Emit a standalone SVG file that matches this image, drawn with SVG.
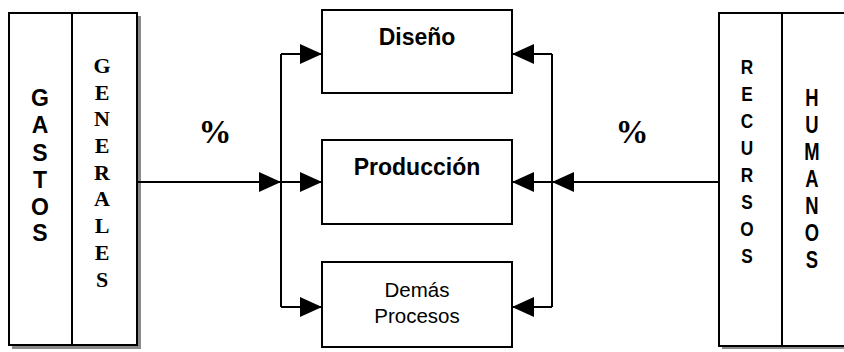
<svg xmlns="http://www.w3.org/2000/svg" width="844" height="352" viewBox="0 0 844 352">
<style>
.box{fill:#fff;stroke:#000;stroke-width:2}
.ln{fill:none;stroke:#000;stroke-width:2}
.sh{fill:#8a8a8a}
.vs{font-family:"Liberation Sans",Arial,sans-serif;font-weight:bold;text-anchor:middle;fill:#000}
.vt{font-family:"Liberation Serif","Times New Roman",serif;font-weight:bold;text-anchor:middle;fill:#000}
.lb{font-family:"Liberation Sans",Arial,sans-serif;text-anchor:middle;fill:#000}
</style>
<defs>
<marker id="ah" markerUnits="userSpaceOnUse" markerWidth="24" markerHeight="22" refX="22" refY="10" orient="auto">
<path d="M0,0 L22,10 L0,20 Z" fill="#000"/>
</marker>
</defs>
<rect width="844" height="352" fill="#fff"/>

<g id="gastos-generales">
<rect class="sh" x="137" y="16" width="4" height="333"/>
<rect class="sh" x="12" y="345" width="129" height="4"/>
<rect class="box" x="9" y="13" width="128" height="332"/>
<line class="ln" x1="72" y1="13" x2="72" y2="345"/>
<g class="vs" font-size="23">
<text x="40" y="106">G</text><text x="40" y="133">A</text><text x="40" y="161">S</text><text x="40" y="188">T</text><text x="40" y="215">O</text><text x="40" y="241">S</text>
</g>
<g class="vt" font-size="22">
<text x="102" y="73">G</text><text x="102" y="100">E</text><text x="102" y="126">N</text><text x="102" y="153">E</text><text x="102" y="180">R</text><text x="102" y="206">A</text><text x="102" y="233">L</text><text x="102" y="260">E</text><text x="102" y="287">S</text>
</g>
</g>

<g id="recursos-humanos">
<rect class="sh" x="722" y="346" width="122" height="3"/>
<rect class="box" x="719" y="13" width="130" height="333"/>
<line class="ln" x1="782" y1="13" x2="782" y2="346"/>
<g class="vs" font-size="21" transform="translate(747,0) scale(0.82,1)">
<text x="0" y="74">R</text><text x="0" y="101">E</text><text x="0" y="128">C</text><text x="0" y="155">U</text><text x="0" y="182">R</text><text x="0" y="209">S</text><text x="0" y="236">O</text><text x="0" y="263">S</text>
</g>
<g class="vs" font-size="23" transform="translate(812,0) scale(0.8,1)">
<text x="0" y="106">H</text><text x="0" y="133">U</text><text x="0" y="160">M</text><text x="0" y="187">A</text><text x="0" y="214">N</text><text x="0" y="241">O</text><text x="0" y="268">S</text>
</g>
</g>

<g id="diseno">
<rect class="box" x="322" y="10" width="190" height="83"/>
<text class="lb" x="417" y="45" font-size="23" font-weight="bold">Diseño</text>
</g>
<g id="produccion">
<rect class="box" x="322" y="140" width="190" height="84"/>
<text class="lb" x="417" y="175" font-size="23" font-weight="bold">Producción</text>
</g>
<g id="demas-procesos">
<rect class="box" x="322" y="262" width="190" height="85"/>
<text class="lb" x="417" y="297" font-size="20.5">Demás</text>
<text class="lb" x="417" y="323" font-size="20.5">Procesos</text>
</g>

<g id="connectors">
<path class="ln" d="M281,54 V307"/>
<path class="ln" d="M137,182 H281" marker-end="url(#ah)"/>
<path class="ln" d="M281,54 H322" marker-end="url(#ah)"/>
<path class="ln" d="M281,182 H322" marker-end="url(#ah)"/>
<path class="ln" d="M281,307 H322" marker-end="url(#ah)"/>
<path class="ln" d="M552,54 V307"/>
<path class="ln" d="M719,182 H552" marker-end="url(#ah)"/>
<path class="ln" d="M552,54 H512" marker-end="url(#ah)"/>
<path class="ln" d="M552,182 H512" marker-end="url(#ah)"/>
<path class="ln" d="M552,307 H512" marker-end="url(#ah)"/>
<text class="vt" x="215" y="143" font-size="33">%</text>
<text class="vt" x="632" y="143" font-size="33">%</text>
</g>
</svg>
